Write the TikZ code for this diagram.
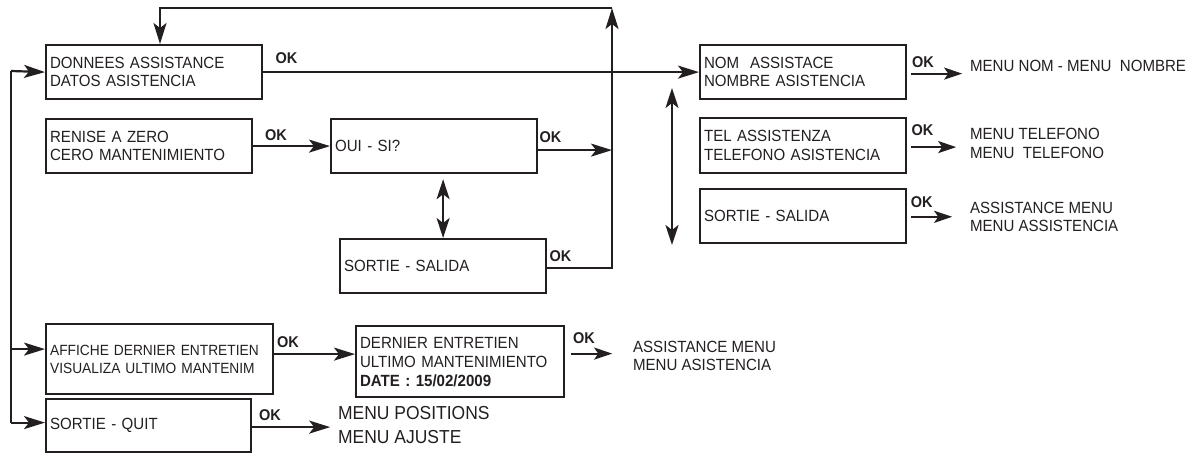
\documentclass[tikz,border=0pt]{standalone}
\usepackage{fontspec}
\setmainfont[FakeStretch=0.93]{Liberation Sans}
\usetikzlibrary{arrows.meta,calc}
\definecolor{ink}{HTML}{231F20}
\begin{document}
\begin{tikzpicture}[x=1pt,y=-1pt,
  line width=2.2pt, draw=ink, text=ink,
  box/.style={draw=ink, line width=2.2pt, anchor=north west, inner xsep=4pt, inner ysep=0pt,
    align=left, font=\fontsize{16.2}{18.5}\selectfont},
  arr/.style={draw=ink, -{Stealth[length=21pt,width=13pt,inset=5pt]}},
  arrs/.style={draw=ink, -{Stealth[length=18pt,width=12pt,inset=4pt]}},
  darr/.style={draw=ink, {Stealth[length=20pt,width=13pt,inset=5pt]}-{Stealth[length=20pt,width=13pt,inset=5pt]}},
  oklbl/.style={font=\bfseries\fontsize{15.6}{16}\selectfont, inner sep=0pt},
  outtxt/.style={anchor=west, inner sep=0pt, align=left, font=\fontsize{16.2}{18.5}\selectfont}
]
\useasboundingbox (0,0) rectangle (1200,453);

% boxes
\node[box, minimum width=216pt, text width=208pt, minimum height=54pt] (donnees) at (45,44)
  {DONNEES ASSISTANCE\\DATOS ASISTENCIA};
\node[box, minimum width=206pt, text width=198pt, minimum height=54pt] (renise) at (45,118)
  {RENISE A ZERO\\CERO MANTENIMIENTO};
\node[box, minimum width=206pt, text width=198pt, minimum height=54pt] (oui) at (330,118)
  {OUI - SI?};
\node[box, minimum width=206pt, text width=198pt, minimum height=54pt] (salida1) at (339,238)
  {SORTIE - SALIDA};
\node[box, minimum width=227pt, text width=219pt, minimum height=70pt,
  font=\fontsize{14.8}{18.3}\selectfont] (affiche) at (45,323)
  {AFFICHE DERNIER ENTRETIEN\\VISUALIZA ULTIMO MANTENIM};
\node[box, minimum width=205pt, text width=197pt, minimum height=53pt] (quit) at (45,398)
  {SORTIE - QUIT};
\node[box, minimum width=208pt, text width=200pt, minimum height=71pt,
  font=\fontsize{16.2}{19}\selectfont] (dernier) at (355,325)
  {DERNIER ENTRETIEN\\ULTIMO MANTENIMIENTO\\\textbf{DATE : 15/02/2009}};
\node[box, minimum width=206pt, text width=198pt, minimum height=54pt] (nom) at (699,44)
  {NOM\ \ ASSISTACE\\NOMBRE ASISTENCIA};
\node[box, minimum width=206pt, text width=198pt, minimum height=55pt] (tel) at (699,117)
  {TEL ASSISTENZA\\TELEFONO ASISTENCIA};
\node[box, minimum width=206pt, text width=198pt, minimum height=54pt] (salida2) at (699,188)
  {SORTIE - SALIDA};

% coordinates
\coordinate (vtop) at (612,8);
\coordinate (dtop) at (160,8);
\coordinate (ltop) at (11,71);
\coordinate (aw) at ($(affiche.west)+(0,-10)$);
\coordinate (qw) at ($(quit.west)+(0,-3)$);
\coordinate (ae) at ($(affiche.east)+(0,-5)$);
\coordinate (ouie) at ($(oui.east)+(0,4)$);
\coordinate (sale) at ($(salida1.east)+(0,2)$);
\coordinate (qe) at ($(quit.east)+(0,1.5)$);
\coordinate (qend) at ($(qe)+(78,0)$);
\coordinate (de1) at ($(dernier.east)+(6,-8)$);
\coordinate (de2) at ($(de1)+(41,0)$);
\coordinate (ne1) at ($(nom.east)+(4,1.5)$);
\coordinate (ne2) at ($(ne1)+(51,0)$);
\coordinate (te1) at ($(tel.east)+(4,1.5)$);
\coordinate (te2) at ($(te1)+(45,0)$);
\coordinate (se1) at ($(salida2.east)+(4,0.7)$);
\coordinate (se2) at ($(se1)+(41,0)$);
\coordinate (rv1) at (672,88);
\coordinate (rv2) at (672,245);

% connectors
\draw[arr] (donnees.east) -- (nom.west);
\draw[arr] (renise.east) -- (oui.west);
\draw[arr] (ouie) -- (ouie -| vtop);
\draw[arr] (sale) -| (vtop);
\draw[arr] (vtop) -| (dtop |- donnees.north);
\draw[darr, shorten <=5pt] (oui.south -| salida1.north) -- (salida1.north);
\draw (ltop) -- (qw -| ltop);
\draw[arr] (ltop) -- (donnees.west);
\draw[arr] (aw -| ltop) -- (aw);
\draw[arr] (qw -| ltop) -- (qw);
\draw[arr] (ae) -- (ae -| dernier.west);
\draw[arr] (qe) -- (qend);
\draw[arrs] (de1) -- (de2);
\draw[arrs] (ne1) -- (ne2);
\draw[arrs] (te1) -- (te2);
\draw[arrs] (se1) -- (se2);
\draw[darr] (rv1) -- (rv2);

% OK labels
\node[oklbl] (ok1) at (286.5,58) {OK};
\node[oklbl] (ok2) at (276,135) {OK};
\node[oklbl] (ok3) at (550.5,137.5) {OK};
\node[oklbl] (ok4) at (560.5,256.5) {OK};
\node[oklbl] (ok5) at (923,61.7) {OK};
\node[oklbl] (ok6) at (922.5,130) {OK};
\node[oklbl] (ok7) at (921.7,201.7) {OK};
\node[oklbl] (ok8) at (288,341.7) {OK};
\node[oklbl] (ok9) at (270,415) {OK};
\node[oklbl] (ok10) at (584,338) {OK};

% outputs
\node[outtxt] (o1) at (969,65.5) {MENU NOM - MENU\ \ NOMBRE};
\node[outtxt] (o2) at (969,143.3) {MENU TELEFONO\\MENU\ \ TELEFONO};
\node[outtxt] (o3) at (969,216.8) {ASSISTANCE MENU\\MENU ASSISTENCIA};
\node[outtxt] (o4) at (632,355.8) {ASSISTANCE MENU\\MENU ASISTENCIA};
\node[outtxt, font=\fontsize{18.8}{24}\selectfont] (o5) at (337,425) {MENU POSITIONS\\MENU AJUSTE};
\end{tikzpicture}
\end{document}
